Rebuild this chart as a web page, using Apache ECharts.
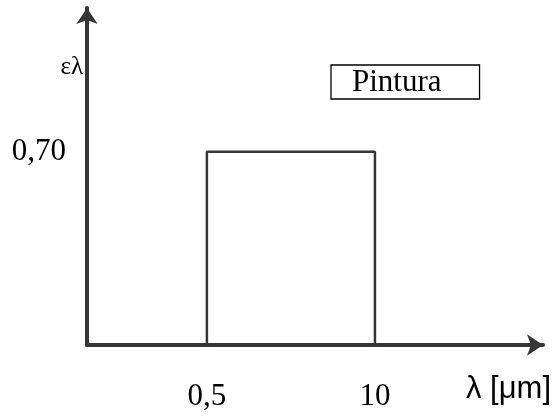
<!DOCTYPE html>
<html><head><meta charset="utf-8">
<script src="https://cdn.jsdelivr.net/npm/echarts@6/dist/echarts.min.js"></script>
<style>html,body{margin:0;padding:0;background:#fff}#c{width:557px;height:417px}</style>
</head><body><div id="c"></div>
<script>
// Schematic spectral emissivity of a paint ("Pintura")
const seriesName = 'Pintura';
const bandLimits = [0.5, 10];          // λ [μm]
const emissivity = 0.70;               // ε_λ inside the band
const xTickLabels = [0.5, 10];
const yTickLabels = [0.70];

const pts = [
  [bandLimits[0], 0],
  [bandLimits[0], emissivity],
  [bandLimits[1], emissivity],
  [bandLimits[1], 0]
];
const font = 'Liberation Serif';
const chart = echarts.init(document.getElementById('c'));
chart.setOption({
  animation: false,
  backgroundColor: '#fff',
  grid: { left: 87, right: 14, top: 8, bottom: 72, containLabel: false },
  legend: {
    data: [seriesName], left: 331, top: 65,
    icon: 'none', itemWidth: 0, itemHeight: 0,
    borderColor: '#000', borderWidth: 1.3,
    padding: [2, 38, 1, 16],
    textStyle: { fontFamily: font, fontSize: 31, color: '#000' },
    selectedMode: false
  },
  xAxis: {
    type: 'log', min: 0.059, max: 200,
    name: 'λ [μm]', nameLocation: 'end', nameGap: -77,
    nameTextStyle: { fontFamily: 'Liberation Sans', fontSize: 31, color: '#000', align: 'left', verticalAlign: 'top', padding: [29, 0, 0, 0] },
    axisLine: { show: true, lineStyle: { color: '#363636', width: 4 }, symbol: ['none', 'arrow'], symbolSize: [16, 16] },
    axisTick: { show: false },
    splitLine: { show: false },
    axisLabel: { customValues: xTickLabels, margin: 36, fontFamily: font, fontSize: 31, color: '#000',
      formatter: v => String(v).replace('.', ',') }
  },
  yAxis: {
    type: 'value', min: 0, max: 1.22,
    name: 'ελ', nameLocation: 'end', nameGap: -72,
    nameTextStyle: { fontFamily: font, fontSize: 25, color: '#000', align: 'right', padding: [0, 4, 0, 0] },
    axisLine: { show: true, lineStyle: { color: '#363636', width: 4 }, symbol: ['none', 'arrow'], symbolSize: [16, 16] },
    axisTick: { show: false },
    splitLine: { show: false },
    axisLabel: { customValues: yTickLabels, margin: 21, fontFamily: font, fontSize: 31, color: '#000',
      formatter: v => v.toFixed(2).replace('.', ',') }
  },
  series: [{
    name: seriesName, type: 'line', data: pts, showSymbol: false, symbol: 'none',
    lineStyle: { color: '#363636', width: 2.5 }, itemStyle: { color: '#363636' }
  }]
});
</script></body></html>
